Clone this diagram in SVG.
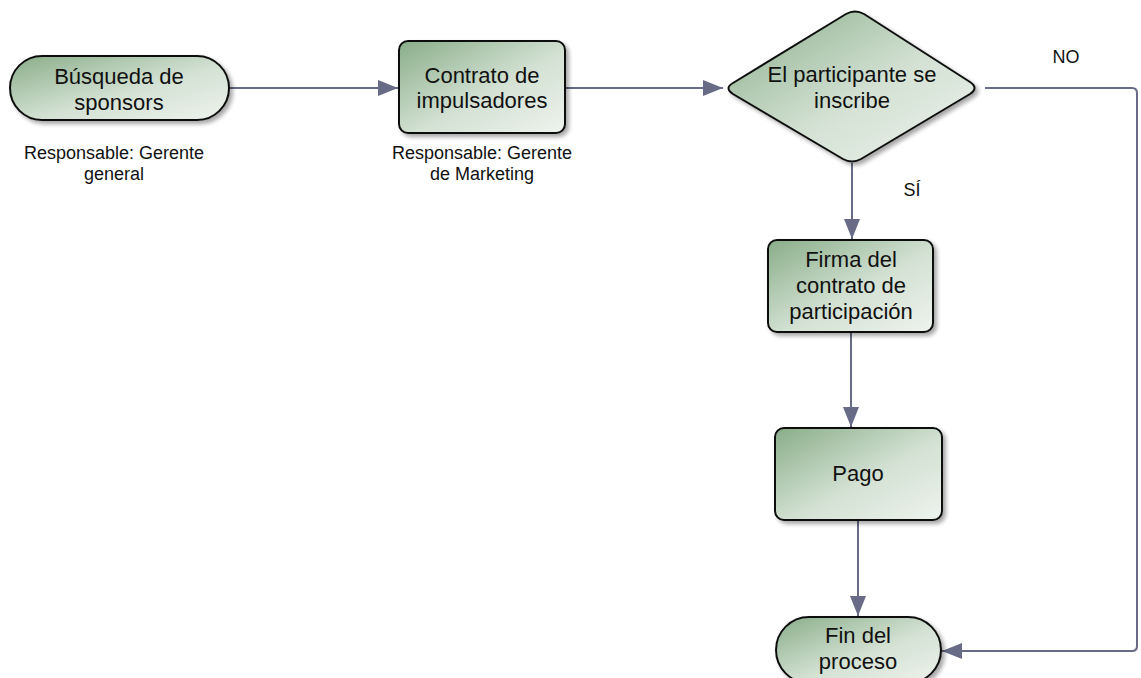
<svg xmlns="http://www.w3.org/2000/svg" width="1141" height="678" viewBox="0 0 1141 678">
  <defs>
    <linearGradient id="fillGreen" x1="0" y1="0" x2="1" y2="1">
      <stop offset="0" stop-color="#89ad89"/>
      <stop offset="0.55" stop-color="#d3e1d3"/>
      <stop offset="1" stop-color="#eef3ee"/>
    </linearGradient>
    <filter id="shadow" x="-10%" y="-10%" width="130%" height="130%">
      <feGaussianBlur in="SourceAlpha" stdDeviation="2"/>
      <feOffset dx="3" dy="3" result="b"/>
      <feComponentTransfer><feFuncA type="linear" slope="0.35"/></feComponentTransfer>
      <feMerge><feMergeNode/><feMergeNode in="SourceGraphic"/></feMerge>
    </filter>
    <marker id="arrow" viewBox="0 0 20 16" refX="20" refY="8" markerWidth="20" markerHeight="16" markerUnits="userSpaceOnUse" orient="auto">
      <path d="M0,0 L20,8 L0,16 Z" fill="#676b85"/>
    </marker>
    <style>
      .shape { fill: url(#fillGreen); stroke: #111; stroke-width: 2; filter: url(#shadow); }
      .lbl { font-family: "Liberation Sans", Arial, sans-serif; font-size: 22px; fill: #111; text-anchor: middle; }
      .note { font-family: "Liberation Sans", Arial, sans-serif; font-size: 18px; fill: #111; text-anchor: middle; }
      .edge { fill: none; stroke: #676b85; stroke-width: 2; }
    </style>
  </defs>

  <rect width="1141" height="678" fill="#ffffff"/>

  <g id="connectors">
    <line class="edge" x1="229" y1="88" x2="398" y2="88" marker-end="url(#arrow)"/>
    <line class="edge" x1="565" y1="88" x2="723" y2="88" marker-end="url(#arrow)"/>
    <path class="edge" d="M985,88 H1132 Q1137,88 1137,93 V646 Q1137,651 1132,651 H942" marker-end="url(#arrow)"/>
    <line class="edge" x1="852" y1="163" x2="852" y2="239" marker-end="url(#arrow)"/>
    <line class="edge" x1="851" y1="332" x2="851" y2="427" marker-end="url(#arrow)"/>
    <line class="edge" x1="858" y1="520" x2="858" y2="616" marker-end="url(#arrow)"/>
    <text class="note" x="1066" y="63">NO</text>
    <text class="note" x="912" y="196">SÍ</text>
  </g>

  <g id="busqueda">
    <rect class="shape" x="10" y="56" width="219" height="64" rx="32" ry="32"/>
    <text class="lbl" x="119" y="84">Búsqueda de</text>
    <text class="lbl" x="119" y="110">sponsors</text>
    <text class="note" x="114" y="159">Responsable: Gerente</text>
    <text class="note" x="114" y="180">general</text>
  </g>

  <g id="contrato">
    <rect class="shape" x="399" y="41" width="166" height="92" rx="9" ry="9"/>
    <text class="lbl" x="482" y="83">Contrato de</text>
    <text class="lbl" x="482" y="108">impulsadores</text>
    <text class="note" x="482" y="159">Responsable: Gerente</text>
    <text class="note" x="482" y="180">de Marketing</text>
  </g>

  <g id="decision">
    <path class="shape" d="M733,83 L846,14 Q855,9 864,14 L970,82 Q979,88 970,94 L861,159 Q852,164 843,159 L733,94 Q724,88 733,83 Z"/>
    <text class="lbl" x="852" y="82">El participante se</text>
    <text class="lbl" x="852" y="108">inscribe</text>
  </g>

  <g id="firma">
    <rect class="shape" x="768" y="240" width="165" height="92" rx="9" ry="9"/>
    <text class="lbl" x="851" y="267">Firma del</text>
    <text class="lbl" x="851" y="293">contrato de</text>
    <text class="lbl" x="851" y="319">participación</text>
  </g>

  <g id="pago">
    <rect class="shape" x="775" y="428" width="167" height="92" rx="9" ry="9"/>
    <text class="lbl" x="858" y="481">Pago</text>
  </g>

  <g id="fin">
    <rect class="shape" x="776" y="617" width="165" height="66" rx="33" ry="33"/>
    <text class="lbl" x="858" y="643">Fin del</text>
    <text class="lbl" x="858" y="669">proceso</text>
  </g>
</svg>
